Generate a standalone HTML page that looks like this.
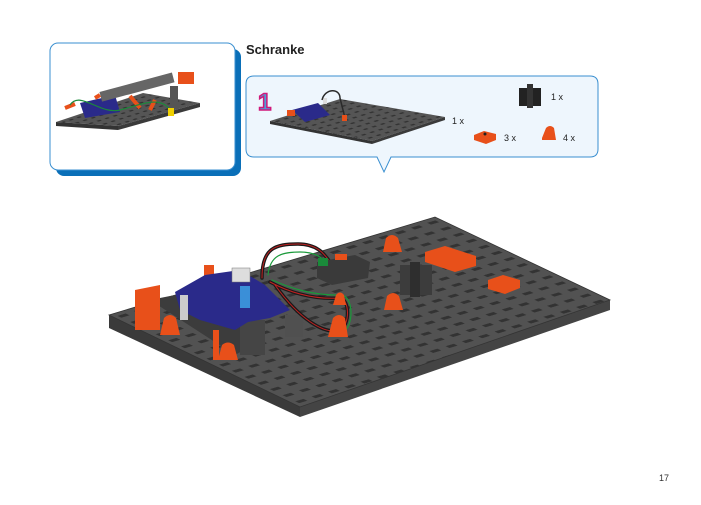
<!DOCTYPE html>
<html><head><meta charset="utf-8"><style>
html,body{margin:0;padding:0;background:#fff;}
body{width:701px;height:500px;overflow:hidden;position:relative;font-family:"Liberation Sans",sans-serif;}
</style></head><body>
<svg width="701" height="500" viewBox="0 0 701 500" xmlns="http://www.w3.org/2000/svg">
<defs>
<pattern id="holes" width="1" height="1" patternUnits="userSpaceOnUse" patternTransform="matrix(16.3,-4.9,12.7,6.1,109,315)">
<rect x="0" y="0" width="1" height="1" fill="#525252"/>
<rect x="0.25" y="0.35" width="0.5" height="0.3" fill="#333"/>
</pattern>
<pattern id="holes2" width="1" height="1" patternUnits="userSpaceOnUse" patternTransform="matrix(8,-2.5,6,3,56,122)">
<rect x="0" y="0" width="1" height="1" fill="#555"/>
<rect x="0.3" y="0.35" width="0.45" height="0.3" fill="#333"/>
</pattern>
<pattern id="holes3" width="1" height="1" patternUnits="userSpaceOnUse" patternTransform="matrix(8.5,-2.6,6.5,3,270,121)">
<rect x="0" y="0" width="1" height="1" fill="#555"/>
<rect x="0.3" y="0.35" width="0.45" height="0.3" fill="#333"/>
</pattern>
</defs>

<rect x="56" y="49" width="185" height="127" rx="8" fill="#0a6fb8"/>
<rect x="50" y="43" width="185" height="127" rx="8" fill="#fff" stroke="#3a8fd0" stroke-width="1"/>
<polygon points="56,122 143,93 200,103 118,126" fill="url(#holes2)"/>
<polygon points="56,122 118,126 118,130 56,126" fill="#333"/>
<polygon points="118,126 200,103 200,107 118,130" fill="#3a3a3a"/>
<polygon points="80,103 115,95 120,112 85,118" fill="#2a2a8a"/>
<rect x="100" y="84" width="75" height="10" fill="#666" transform="rotate(-15 130 90)"/>
<rect x="178" y="72" width="16" height="12" fill="#e8501a"/>
<rect x="170" y="86" width="8" height="22" fill="#555"/>
<path d="M65,108 L75,104 M95,98 L100,95 M130,96 L140,108 M150,110 L155,100" stroke="#e8501a" stroke-width="4"/>
<path d="M70,105 C80,90 100,115 120,110 S160,95 170,110" stroke="#1a8a3a" stroke-width="1.2" fill="none"/>
<rect x="168" y="108" width="6" height="8" fill="#f0d000"/>

<text x="246" y="54" font-size="13" font-weight="bold" fill="#222" font-family="Liberation Sans, sans-serif">Schranke</text>

<path d="M254,76 H590 Q598,76 598,84 V149 Q598,157 590,157 H391 L384,172 L377,157 H254 Q246,157 246,149 V84 Q246,76 254,76 Z" fill="#eef6fd" stroke="#3a8fd0" stroke-width="1"/>
<text x="258" y="110" font-size="24" font-weight="bold" fill="#4aa0d8" stroke="#d0187a" stroke-width="1.5" font-family="Liberation Sans, sans-serif">1</text>
<polygon points="270,121 340,99 445,117 372,141" fill="url(#holes3)"/>
<polygon points="270,121 372,141 372,144 270,124" fill="#333"/>
<polygon points="372,141 445,117 445,120 372,144" fill="#3a3a3a"/>
<polygon points="292,110 318,103 330,115 305,122" fill="#2a2a8a"/>
<rect x="287" y="110" width="8" height="6" fill="#e8501a"/>
<rect x="323" y="98" width="4" height="6" fill="#ddd"/>
<path d="M322,100 C325,88 340,88 340,98 L345,118" stroke="#2a2a2a" stroke-width="1.5" fill="none"/>
<rect x="342" y="115" width="5" height="6" fill="#e8501a"/>
<text x="452" y="124" font-size="9" fill="#222">1 x</text>
<rect x="519" y="88" width="22" height="18" fill="#222"/>
<rect x="527" y="84" width="6" height="24" fill="#333"/>
<text x="551" y="100" font-size="9" fill="#222">1 x</text>
<polygon points="474,135 484,131 496,134 496,140 486,144 474,140" fill="#e8501a"/>
<circle cx="485" cy="134" r="1.5" fill="#222"/>
<text x="504" y="141" font-size="9" fill="#222">3 x</text>
<path d="M542,138 L546,128 Q550,124 554,128 L556,140 L542,140 Z" fill="#e8501a"/>
<text x="563" y="141" font-size="9" fill="#222">4 x</text>

<polygon points="109,315 435,217 610,300 300,407" fill="url(#holes)"/>
<polygon points="109,315 300,407 300,417 109,328" fill="#3a3a3a"/>
<polygon points="300,407 610,300 610,310 300,417" fill="#444"/>
<polygon points="109,315 435,217 610,300 300,407" fill="none" stroke="#333" stroke-width="0.8"/>

<polygon points="150,300 225,285 262,340 235,355" fill="#3c3c3c"/>
<rect x="240" y="320" width="25" height="35" fill="#454545"/>
<rect x="285" y="315" width="18" height="22" fill="#505050"/>
<polygon points="135,290 160,285 160,330 135,330" fill="#e8501a"/>
<rect x="204" y="265" width="10" height="20" fill="#e8501a"/>
<rect x="213" y="330" width="6" height="30" fill="#e8501a"/>
<polygon points="175,292 205,275 240,270 265,285 290,310 270,318 248,322 235,330 200,320 180,310" fill="#2a2a8a"/>
<rect x="240" y="286" width="10" height="22" fill="#3a8fd8"/>
<rect x="232" y="268" width="18" height="14" fill="#ddd" stroke="#777" stroke-width="0.5"/>
<rect x="180" y="295" width="8" height="25" fill="#ccc"/>
<!-- wires -->
<g fill="none" stroke-linecap="round">
<path d="M262,278 C262,248 275,244 298,244 C318,244 325,255 330,262" stroke="#1a1a1a" stroke-width="3.5"/>
<path d="M262,278 C262,248 275,244 298,244 C318,244 325,255 330,262" stroke="#c02020" stroke-width="1"/>
<path d="M268,275 C270,255 282,252 300,252 C316,252 322,258 328,264" stroke="#1a9a3a" stroke-width="1.2"/>
<path d="M270,282 C285,290 310,300 340,298 C350,300 350,325 340,330 C325,335 300,320 275,285" stroke="#1a1a1a" stroke-width="3.5"/>
<path d="M270,282 C285,290 310,300 340,298 C350,300 350,325 340,330 C325,335 300,320 275,285" stroke="#c02020" stroke-width="1"/>
<path d="M272,280 C288,287 312,296 342,295 C354,298 354,327 342,333" stroke="#1a9a3a" stroke-width="1.2"/>
</g>
<polygon points="317,262 355,255 370,262 368,278 332,285 317,278" fill="#3a3a3a"/>
<rect x="318" y="258" width="10" height="8" fill="#1a8a3a"/>
<rect x="335" y="254" width="12" height="6" fill="#e8501a"/>
<path d="M160,335 L164,318 Q170,312 176,318 L180,335 Z" fill="#e8501a"/>
<path d="M218,360 L222,345 Q228,340 234,345 L238,360 Z" fill="#e8501a"/>
<path d="M328,337 L333,318 Q339,312 345,318 L348,337 Z" fill="#e8501a"/>
<path d="M333,305 L336,295 Q340,290 344,295 L346,305 Z" fill="#e8501a"/>
<path d="M383,252 L386,238 Q392,232 398,238 L402,252 Z" fill="#e8501a"/>
<path d="M384,310 L387,296 Q393,290 399,296 L403,310 Z" fill="#e8501a"/>
<polygon points="425,252 445,246 476,256 476,266 455,272 425,262" fill="#e8501a"/>
<polygon points="488,280 503,275 520,280 520,288 505,294 488,289" fill="#e8501a"/>
<rect x="400" y="265" width="32" height="30" fill="#3c3c3c"/>
<rect x="410" y="262" width="10" height="35" fill="#2e2e2e"/>

<text x="659" y="481" font-size="9" fill="#333">17</text>
</svg>
</body></html>
